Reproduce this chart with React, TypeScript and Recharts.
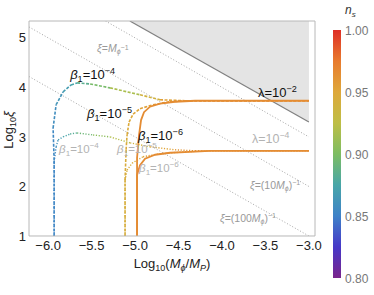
import React from "react";
import { ComposedChart, Line, Area, XAxis, YAxis, ReferenceDot } from "recharts";

const FONT = '"Liberation Sans", Arial, sans-serif';

// axis ranges and ticks
const X_MIN = -6.22;
const X_MAX = -2.93;
const Y_MIN = 1;
const Y_MAX = 5.34;
const xTicks = [-6.0, -5.5, -5.0, -4.5, -4.0, -3.5, -3.0];
const yTicks = [1, 2, 3, 4, 5];
const xMinor = [
  -6.2, -6.1, -6.0, -5.9, -5.8, -5.7, -5.6, -5.5, -5.4, -5.3, -5.2, -5.1, -5.0, -4.9, -4.8, -4.7, -4.6,
  -4.5, -4.4, -4.3, -4.2, -4.1, -4.0, -3.9, -3.8, -3.7, -3.6, -3.5, -3.4, -3.3, -3.2, -3.1, -3.0,
];
const yMinor = [1, 1.2, 1.4, 1.6, 1.8, 2, 2.2, 2.4, 2.6, 2.8, 3, 3.2, 3.4, 3.6, 3.8, 4, 4.2, 4.4, 4.6, 4.8, 5, 5.2];
const nsTicks = [0.8, 0.85, 0.9, 0.95, 1.0];

// excluded region (grey)
const boundX = [-5.06, -3.0];
const boundY = [5.34, 3.3];

// dotted guides: xi = M^-1, (10M)^-1, (100M)^-1
const guide1X = [-5.34, -3.0];
const guide1Y = [5.34, 3.0];
const guide2X = [-6.22, -3.0];
const guide2Y = [5.22, 2.0];
const guide3X = [-6.22, -3.0];
const guide3Y = [4.22, 1.0];

// lambda = 1e-2 family
const b4aX = [-5.931, -5.931, -5.943, -5.908, -5.828, -5.736, -5.667, -5.517, -5.287, -4.943, -4.713, -4.425, -3.0];
const b4aY = [1.0, 2.53, 3.18, 3.65, 3.91, 4.05, 4.09, 4.07, 3.99, 3.85, 3.75, 3.73, 3.73];
const b4aNs = [0.852, 0.853, 0.855, 0.86, 0.866, 0.872, 0.878, 0.89, 0.905, 0.93, 0.948, 0.96, 0.965];

const b5aX = [-5.115, -5.115, -5.103, -5.092, -5.069, -5.023, -4.943, -4.793, -4.598, -4.368, -3.0];
const b5aY = [1.0, 2.13, 2.74, 3.04, 3.3, 3.46, 3.57, 3.65, 3.71, 3.73, 3.73];
const b5aNs = [0.944, 0.945, 0.946, 0.947, 0.948, 0.95, 0.952, 0.956, 0.96, 0.963, 0.965];

const b6aX = [-4.977, -4.977, -4.954, -4.931, -4.897, -4.828, -4.713, -4.54, -4.31, -3.0];
const b6aY = [1.0, 2.58, 3.04, 3.34, 3.5, 3.61, 3.67, 3.71, 3.73, 3.73];

// lambda = 1e-4 family
const b4bX = [-5.931, -5.931, -5.908, -5.885, -5.828, -5.747, -5.667, -5.483, -5.287, -5.057, -4.828, -4.54, -4.31, -3.0];
const b4bY = [1.0, 2.5, 2.8, 2.94, 3.0, 3.06, 3.08, 3.04, 3.0, 2.88, 2.8, 2.74, 2.72, 2.72];
const b4bNs = [0.852, 0.853, 0.858, 0.864, 0.87, 0.878, 0.885, 0.9, 0.912, 0.93, 0.945, 0.958, 0.963, 0.965];

const b5bX = [-5.115, -5.115, -5.092, -5.034, -4.908, -4.713, -4.425, -4.138, -3.0];
const b5bY = [1.0, 2.13, 2.33, 2.47, 2.6, 2.66, 2.7, 2.72, 2.72];
const b5bNs = [0.942, 0.943, 0.944, 0.946, 0.95, 0.955, 0.96, 0.963, 0.965];

const b6bX = [-4.977, -4.977, -4.943, -4.885, -4.77, -4.598, -4.368, -4.138, -3.0];
const b6bY = [1.0, 2.23, 2.43, 2.56, 2.64, 2.68, 2.7, 2.72, 2.72];

const ORANGE_NS = 0.965;

// colour map for n_s
const cmap: [number, number[]][] = [
  [0.8, [122, 36, 140]],
  [0.825, [70, 56, 200]],
  [0.85, [62, 130, 200]],
  [0.875, [72, 166, 168]],
  [0.9, [125, 189, 98]],
  [0.925, [190, 190, 70]],
  [0.95, [222, 168, 58]],
  [0.975, [232, 122, 46]],
  [1.0, [222, 46, 38]],
];

function nsColor(v: number) {
  if (v <= cmap[0][0]) return `rgb(${cmap[0][1].join(",")})`;
  for (let i = 1; i < cmap.length; i++) {
    if (v <= cmap[i][0]) {
      const [t0, c0] = cmap[i - 1];
      const [t1, c1] = cmap[i];
      const f = (v - t0) / (t1 - t0);
      const c = c0.map((a, k) => Math.round(a + (c1[k] - a) * f));
      return `rgb(${c.join(",")})`;
    }
  }
  return `rgb(${cmap[cmap.length - 1][1].join(",")})`;
}

const toPts = (xs: number[], ys: number[]) => xs.map((x, i) => ({ x, y: ys[i] }));

const common = {
  xAxisId: "x",
  yAxisId: "y",
  dataKey: "y",
  type: "linear" as const,
  dot: false,
  activeDot: false,
  isAnimationActive: false,
  legendType: "none" as const,
};

// colored curve built from short segments
function gradCurve(key: string, xs: number[], ys: number[], ns: number[], dash: string, w: number) {
  const out: any[] = [];
  for (let i = 0; i < xs.length - 1; i++) {
    out.push(
      <Line
        key={key + i}
        {...common}
        data={[{ x: xs[i], y: ys[i] }, { x: xs[i + 1], y: ys[i + 1] }]}
        stroke={nsColor((ns[i] + ns[i + 1]) / 2)}
        strokeWidth={w}
        strokeDasharray={dash}
      />
    );
  }
  return out;
}

const fmtX = (v: number) => (v < 0 ? "\u2212" + Math.abs(v).toFixed(1) : v.toFixed(1));

function betaLbl(e: string, color: string, fs: number) {
  return (p: any) => {
    const { x, y } = p.viewBox;
    const small = fs * 0.7;
    return (
      <text x={x} y={y} fill={color} fontSize={fs} fontFamily={FONT}>
        <tspan fontStyle="italic">β</tspan>
        <tspan fontSize={small} dy={3}>1</tspan>
        <tspan dy={-3}>=10</tspan>
        <tspan fontSize={small} dy={-5}>{"\u2212" + e}</tspan>
      </text>
    );
  };
}

function lambdaLbl(e: string, color: string, fs: number) {
  return (p: any) => {
    const { x, y } = p.viewBox;
    return (
      <text x={x} y={y} fill={color} fontSize={fs} fontFamily={FONT}>
        <tspan>λ=10</tspan>
        <tspan fontSize={fs * 0.7} dy={-5}>{"\u2212" + e}</tspan>
      </text>
    );
  };
}

function xiLbl(inner: string) {
  return (p: any) => {
    const { x, y } = p.viewBox;
    return (
      <text x={x} y={y} fill="#999" fontSize={10.5} fontFamily={FONT}>
        <tspan fontStyle="italic">ξ</tspan>
        <tspan>{inner === "" ? "=" : "=(" + inner}</tspan>
        <tspan fontStyle="italic">M</tspan>
        <tspan fontSize={7} fontStyle="italic" dy={2}>ϕ</tspan>
        <tspan dy={-2}>{inner === "" ? "" : ")"}</tspan>
        <tspan fontSize={7} dy={-4}>{"\u22121"}</tspan>
      </text>
    );
  };
}

const GREY_TXT = "#b3b3b3";
const labels = [
  { x: -5.747, y: 4.17, c: betaLbl("4", "#111", 13) },
  { x: -5.552, y: 3.384, c: betaLbl("5", "#111", 13) },
  { x: -4.966, y: 2.94, c: betaLbl("6", "#111", 13) },
  { x: -3.586, y: 3.81, c: lambdaLbl("2", "#111", 13) },
  { x: -5.874, y: 2.677, c: betaLbl("4", GREY_TXT, 11.5) },
  { x: -5.207, y: 2.677, c: betaLbl("5", GREY_TXT, 11.5) },
  { x: -4.954, y: 2.293, c: betaLbl("6", GREY_TXT, 11.5) },
  { x: -3.655, y: 2.879, c: lambdaLbl("4", GREY_TXT, 12.5) },
  { x: -5.437, y: 4.717, c: xiLbl("") },
  { x: -3.678, y: 1.95, c: xiLbl("10") },
  { x: -4.023, y: 1.283, c: xiLbl("100") },
];

const FRAME = "#b8b8b8";
const THIN = 0.01;

function ColorBar() {
  const top = 30;
  const h = 248;
  const pos = (v: number) => top + (1 - (v - 0.8) / 0.2) * h;
  return (
    <svg width={374} height={295} style={{ position: "absolute", left: 0, top: 0, pointerEvents: "none" }}>
      <defs>
        <linearGradient id="nsgrad" x1="0" y1="1" x2="0" y2="0">
          {cmap.map(([v, c]) => (
            <stop key={v} offset={(v - 0.8) / 0.2} stopColor={`rgb(${c.join(",")})`} />
          ))}
        </linearGradient>
      </defs>
      <rect x={333} y={top} width={8} height={h} fill="url(#nsgrad)" />
      {nsTicks.map((v) => (
        <text key={v} x={345} y={pos(v) + 4.5} fontSize={12} fill="#777" fontFamily={FONT}>
          {v.toFixed(2)}
        </text>
      ))}
      <text x={345} y={14} fontSize={12} fill="#333" fontFamily={FONT}>
        <tspan fontStyle="italic">n</tspan>
        <tspan fontSize={8} dy={3} fontStyle="italic">s</tspan>
      </text>
      <text x={172} y={268} fontSize={13} fill="#222" fontFamily={FONT} textAnchor="middle">
        <tspan>Log</tspan>
        <tspan fontSize={9} dy={3}>10</tspan>
        <tspan dy={-3}>(</tspan>
        <tspan fontStyle="italic">M</tspan>
        <tspan fontSize={9} fontStyle="italic" dy={3}>ϕ</tspan>
        <tspan dy={-3}>/</tspan>
        <tspan fontStyle="italic">M</tspan>
        <tspan fontSize={9} fontStyle="italic" dy={3}>P</tspan>
        <tspan dy={-3}>)</tspan>
      </text>
      <text x={13} y={130} fontSize={13} fill="#222" fontFamily={FONT} textAnchor="middle" transform="rotate(-90 13 130)">
        <tspan>Log</tspan>
        <tspan fontSize={9} dy={3}>10</tspan>
        <tspan dy={-3} fontStyle="italic">ξ</tspan>
      </text>
    </svg>
  );
}

export default function App() {
  const shade = boundX.map((x, i) => ({ x, r: [boundY[i], Y_MAX] }));
  const orange = nsColor(ORANGE_NS);
  const axisCommon = { type: "number" as const, allowDataOverflow: true };
  return (
    <div style={{ position: "absolute", left: 0, top: 0, width: 374, height: 295, background: "#fff" }}>
      <ComposedChart width={374} height={295} margin={{ top: 21, right: 59, bottom: 59, left: 29 }}>
        {/* bottom */}
        <XAxis xAxisId="x" dataKey="x" {...axisCommon} domain={[X_MIN, X_MAX]} ticks={xTicks} interval={0}
          tickFormatter={fmtX} height={THIN} tickSize={0} tickMargin={5} axisLine={{ stroke: FRAME }}
          tick={{ fontSize: 13, fill: "#222", fontFamily: FONT }} tickLine={false} />
        <XAxis xAxisId="xb1" {...axisCommon} domain={[X_MIN, X_MAX]} ticks={xTicks} interval={0} height={THIN}
          mirror tick={false} tickSize={4} axisLine={false} tickLine={{ stroke: FRAME }} />
        <XAxis xAxisId="xb2" {...axisCommon} domain={[X_MIN, X_MAX]} ticks={xMinor} interval={0} height={THIN}
          mirror tick={false} tickSize={2} axisLine={false} tickLine={{ stroke: FRAME }} />
        {/* top */}
        <XAxis xAxisId="xt1" orientation="top" {...axisCommon} domain={[X_MIN, X_MAX]} ticks={xTicks} interval={0}
          height={THIN} mirror tick={false} tickSize={4} axisLine={{ stroke: FRAME }} tickLine={{ stroke: FRAME }} />
        <XAxis xAxisId="xt2" orientation="top" {...axisCommon} domain={[X_MIN, X_MAX]} ticks={xMinor} interval={0}
          height={THIN} mirror tick={false} tickSize={2} axisLine={false} tickLine={{ stroke: FRAME }} />
        {/* left */}
        <YAxis yAxisId="y" {...axisCommon} domain={[Y_MIN, Y_MAX]} ticks={yTicks} interval={0} width={THIN}
          tickSize={0} tickMargin={3} axisLine={{ stroke: FRAME }} tickLine={false}
          tick={{ fontSize: 13, fill: "#222", fontFamily: FONT }} />
        <YAxis yAxisId="yl1" {...axisCommon} domain={[Y_MIN, Y_MAX]} ticks={yTicks} interval={0} width={THIN}
          mirror tick={false} tickSize={4} axisLine={false} tickLine={{ stroke: FRAME }} />
        <YAxis yAxisId="yl2" {...axisCommon} domain={[Y_MIN, Y_MAX]} ticks={yMinor} interval={0} width={THIN}
          mirror tick={false} tickSize={2} axisLine={false} tickLine={{ stroke: FRAME }} />
        {/* right */}
        <YAxis yAxisId="yr1" orientation="right" {...axisCommon} domain={[Y_MIN, Y_MAX]} ticks={yTicks} interval={0}
          width={THIN} mirror tick={false} tickSize={4} axisLine={{ stroke: FRAME }} tickLine={{ stroke: FRAME }} />
        <YAxis yAxisId="yr2" orientation="right" {...axisCommon} domain={[Y_MIN, Y_MAX]} ticks={yMinor} interval={0}
          width={THIN} mirror tick={false} tickSize={2} axisLine={false} tickLine={{ stroke: FRAME }} />

        <Area data={shade} dataKey="r" xAxisId="x" yAxisId="y" type="linear" fill="#e4e4e4" fillOpacity={1}
          stroke="none" isAnimationActive={false} dot={false} activeDot={false} legendType="none" />
        <Line {...common} data={toPts(boundX, boundY)} stroke="#808080" strokeWidth={1.2} />
        <Line {...common} data={toPts(guide1X, guide1Y)} stroke="#9a9a9a" strokeWidth={0.9} strokeDasharray="1 2" />
        <Line {...common} data={toPts(guide2X, guide2Y)} stroke="#9a9a9a" strokeWidth={0.9} strokeDasharray="1 2" />
        <Line {...common} data={toPts(guide3X, guide3Y)} stroke="#9a9a9a" strokeWidth={0.9} strokeDasharray="1 2" />

        {gradCurve("b4b", b4bX, b4bY, b4bNs, "1.2 1.6", 1.4)}
        {gradCurve("b5b", b5bX, b5bY, b5bNs, "1.2 1.6", 1.4)}
        <Line {...common} data={toPts(b6bX, b6bY)} stroke={orange} strokeWidth={1.8} />
        {gradCurve("b4a", b4aX, b4aY, b4aNs, "3 1.5", 1.6)}
        {gradCurve("b5a", b5aX, b5aY, b5aNs, "3 1.5", 1.6)}
        <Line {...common} data={toPts(b6aX, b6aY)} stroke={orange} strokeWidth={1.8} />

        {labels.map((l, i) => (
          <ReferenceDot key={"l" + i} xAxisId="x" yAxisId="y" x={l.x} y={l.y} r={0} fill="none" stroke="none"
            label={l.c} />
        ))}
      </ComposedChart>
      <ColorBar />
    </div>
  );
}
